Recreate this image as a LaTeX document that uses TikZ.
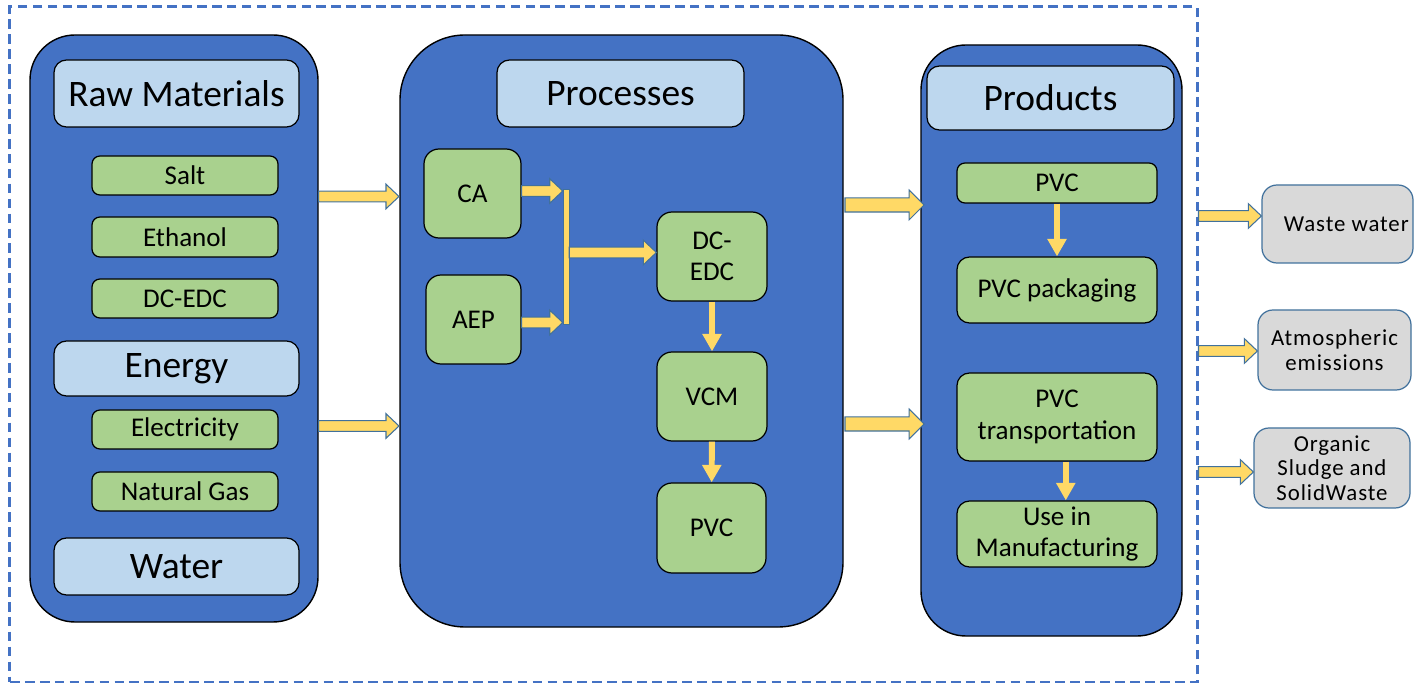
\documentclass[tikz,border=0pt]{standalone}
\usepackage{fontspec}
\setmainfont{Carlito}
\newfontfamily\wastefont[LetterSpace=4]{Carlito}
\usepackage{tikz}
\usetikzlibrary{calc, arrows.meta}
\definecolor{panelblue}{HTML}{4472C4}
\definecolor{headblue}{HTML}{BDD7EE}
\definecolor{boxgreen}{HTML}{A9D18E}
\definecolor{arrowyellow}{HTML}{FFD966}
\definecolor{arrowline}{HTML}{41719C}
\definecolor{wastegray}{HTML}{D9D9D9}
% box from corner to corner: style, name, x1, y1, x2, y2, text
\newcommand{\bx}[7]{%
  \pgfmathsetmacro\bxw{abs(#5-#3)*0.02}%
  \pgfmathsetmacro\bxh{abs(#6-#4)*0.02}%
  \node[#1, minimum width=\bxw cm, minimum height=\bxh cm] (#2) at ({(#3+#5)/2},{(#4+#6)/2}) {#7};}
% block arrow: shaft half width, wing half width, head length, from, to
\newcommand{\yarrow}[5]{%
  \coordinate (yb) at ($(#5)!#3!(#4)$);
  \filldraw[yarrowstyle] ($(#4)!#1!90:(#5)$) -- ($(yb)!#1!-90:(#4)$) -- ($(yb)!#2!-90:(#4)$) -- (#5)
    -- ($(yb)!#2!90:(#4)$) -- ($(yb)!#1!90:(#4)$) -- ($(#4)!#1!-90:(#5)$) -- cycle;}
\newcommand{\smallarrow}[2]{\yarrow{3.1pt}{7pt}{7.4pt}{#1}{#2}}
\newcommand{\bigarrow}[2]{\yarrow{4pt}{8.5pt}{8.5pt}{#1}{#2}}

\begin{document}
\begin{tikzpicture}[x=0.02cm, y=-0.02cm]
	\tikzstyle{yarrowstyle}=[fill=arrowyellow, draw=arrowline, line width=0.6pt]
	\tikzstyle{flatarrow}=[draw=arrowyellow, line width=3.4pt, -{Triangle[width=10.5pt, length=10pt]}]
	\tikzstyle{panel}=[draw=black, line width=0.8pt, fill=panelblue, inner sep=0pt]
	\tikzstyle{headbox}=[draw=black, line width=0.7pt, fill=headblue, rounded corners=0.25cm, inner sep=0pt, font=\fontsize{21.3}{24}\selectfont]
	\tikzstyle{gbox}=[draw=black, line width=0.7pt, fill=boxgreen, rounded corners=0.16cm, inner sep=0pt, align=center, font=\fontsize{15.4}{18}\selectfont]
	\tikzstyle{gbigbox}=[gbox, rounded corners=0.3cm]
	\tikzstyle{wbox}=[draw=arrowline, line width=0.7pt, fill=wastegray, rounded corners=0.3cm, inner sep=0pt, align=center, font=\wastefont\fontsize{13}{14}\selectfont]
	\tikzstyle{frame}=[draw=panelblue, line width=1.7pt, dash pattern=on 5.5pt off 3pt, inner sep=0pt]
	\tikzstyle{jbarstyle}=[fill=arrowyellow, draw=arrowline, line width=0.3pt, inner sep=0pt, minimum size=0pt]
	\useasboundingbox (0,0) rectangle (1414,685);
	
	\bx{frame}{frame}{10}{7}{1197}{682}{}
	
	% raw materials
	\bx{panel, rounded corners=0.9cm}{raw}{30}{35}{318}{622}{}
	\bx{headbox}{rawhead}{54}{60}{299}{127}{Raw Materials}
	\bx{gbox}{salt}{92}{156}{278}{195}{Salt}
	\bx{gbox}{ethanol}{92}{217}{278}{257}{Ethanol}
	\bx{gbox}{dcedcin}{92}{279}{278}{318}{DC-EDC}
	\bx{headbox}{energy}{54}{341}{299}{396}{Energy}
	\bx{gbox}{elec}{92}{410}{278}{449}{Electricity}
	\bx{gbox}{gas}{92}{472}{278}{511}{Natural Gas}
	\bx{headbox}{water}{54}{538}{299}{595}{Water}
	
	% processes
	\bx{panel, rounded corners=1.3cm}{proc}{400}{35}{843}{627}{}
	\bx{headbox}{prochead}{497}{60}{744}{127}{Processes}
	\bx{gbigbox}{ca}{424}{149}{521}{238}{CA}
	\bx{gbigbox}{aep}{426}{275}{521}{364}{AEP}
	\bx{gbigbox}{dcedc}{657}{212}{767}{301}{DC-\\EDC}
	\bx{gbigbox}{vcm}{657}{352}{767}{441}{VCM}
	\bx{gbigbox}{pvcproc}{657}{483}{766}{573}{PVC}
	
	% products
	\bx{panel, rounded corners=0.9cm}{prod}{921}{45}{1182}{636}{}
	\bx{headbox}{prodhead}{927}{66}{1174}{130}{Products}
	\bx{gbox}{pvc}{957}{163}{1157}{203}{PVC}
	\bx{gbox, rounded corners=0.25cm}{pack}{957}{257}{1157}{323}{PVC packaging}
	\bx{gbox, rounded corners=0.25cm}{trans}{957}{373}{1157}{461}{PVC\\transportation}
	\bx{gbox, rounded corners=0.25cm}{use}{957}{501}{1157}{567}{Use in\\Manufacturing}
	
	% waste
	\bx{wbox}{ww}{1262}{185}{1413}{263}{\hspace*{10pt}Waste water}
	\bx{wbox}{atm}{1258}{310}{1411}{390}{Atmospheric\\emissions}
	\bx{wbox}{sludge}{1254}{428}{1410}{508}{Organic\\Sludge and\\SolidWaste}
	
	% flows between panels
	\coordinate (r1) at (raw.east |- 0,196.5);
	\coordinate (p1) at (399,196.5);
	\coordinate (r2) at (raw.east |- 0,426);
	\coordinate (p2) at (399,426);
	\smallarrow{r1}{p1}
	\smallarrow{r2}{p2}
	\coordinate (q1) at (845,205);
	\coordinate (d1) at (924,205);
	\coordinate (q2) at (845,424);
	\coordinate (d2) at (924,424);
	\bigarrow{q1}{d1}
	\bigarrow{q2}{d2}
	
	% processes flow
	\bx{jbarstyle}{jbar}{563}{189}{569}{324}{}
	\coordinate (j1) at (jbar.west |- 0,191);
	\coordinate (c1) at (ca.east |- 0,191);
	\coordinate (j2) at (jbar.west |- 0,322.5);
	\coordinate (c2) at (aep.east |- 0,322.5);
	\coordinate (j3) at (jbar.east |- 0,252.5);
	\coordinate (e3) at (dcedc.west |- 0,252.5);
	\smallarrow{c1}{j1}
	\smallarrow{c2}{j2}
	\smallarrow{j3}{e3}
	\draw[flatarrow] (dcedc) -- (vcm);
	\draw[flatarrow] (vcm) -- (pvcproc);
	\draw[flatarrow] (pvc) -- (pack);
	\draw[flatarrow] ([xshift=5]trans.south) -- ([xshift=5]use.north);
	
	% to waste
	\coordinate (w1) at (frame.east |- 0,216);
	\coordinate (t1) at (ww.west |- 0,216);
	\coordinate (w2) at (frame.east |- 0,351);
	\coordinate (t2) at (atm.west |- 0,351);
	\coordinate (w3) at (frame.east |- 0,472);
	\coordinate (t3) at (sludge.west |- 0,472);
	\smallarrow{w1}{t1}
	\smallarrow{w2}{t2}
	\smallarrow{w3}{t3}
	
\end{tikzpicture}
\end{document}
